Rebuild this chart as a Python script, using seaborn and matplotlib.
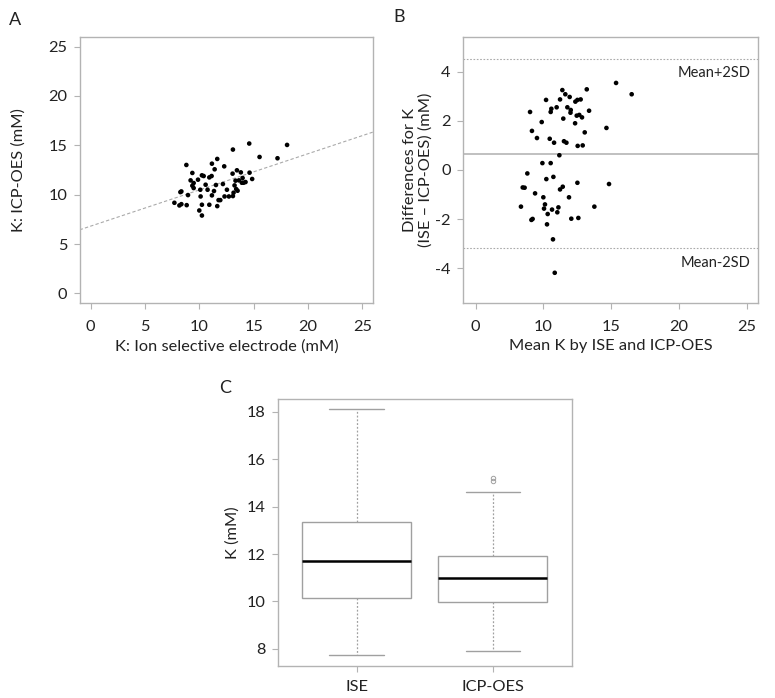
import numpy as np
import pandas as pd
import matplotlib
matplotlib.use("Agg")
import matplotlib.pyplot as plt
import seaborn as sns

# ---------------- data ----------------
# Panel A: ISE (x) vs ICP-OES (y)
ise_k = [7.71, 8.17, 8.26, 8.35, 8.35, 8.81, 8.84, 8.96, 9.20, 9.36, 9.36, 9.48, 9.48,
         9.88, 10.00, 10.09, 10.12, 10.24, 10.24, 10.24, 10.40, 10.58, 10.76, 10.92, 10.92,
         11.13, 11.16, 11.16, 11.35, 11.41, 11.53, 11.65, 11.65, 11.77, 11.93, 12.17, 12.29,
         12.32, 12.54, 12.72, 13.06, 13.09, 13.09, 13.15, 13.24, 13.33, 13.39, 13.46, 13.52,
         13.64, 13.82, 13.91, 13.98, 14.07, 14.25, 14.59, 14.62, 14.86, 15.54, 17.19, 18.07]
icp_k = [9.18, 8.91, 10.26, 10.33, 9.04, 13.01, 8.94, 9.96, 11.45, 12.20, 10.91, 11.18, 10.67,
         11.52, 8.40, 10.50, 9.82, 11.96, 7.89, 8.98, 11.89, 11.01, 10.50, 11.75, 8.98,
         11.89, 13.14, 9.93, 10.37, 12.57, 10.98, 13.62, 8.84, 9.45, 9.45, 11.08, 12.87,
         9.82, 10.50, 9.82, 12.13, 14.57, 9.86, 10.20, 10.94, 11.42, 10.57, 12.47, 10.40,
         11.45, 12.26, 11.21, 11.69, 11.21, 11.28, 15.18, 12.23, 11.59, 13.82, 13.69, 15.04]
fit_intercept = 6.81
fit_slope = 0.367

# Panel B: Bland-Altman
ba_mean = [8.35, 8.48, 8.62, 8.82, 9.02, 9.12, 9.21, 9.16, 9.39, 9.53, 9.88, 9.93, 10.00,
           10.05, 10.12, 10.20, 10.22, 10.27, 10.32, 10.54, 10.59, 10.47, 10.54, 10.64, 10.71,
           10.74, 10.79, 10.84, 10.98, 11.03, 11.11, 11.18, 11.23, 11.23, 11.40, 11.43, 11.47,
           11.52, 11.62, 11.70, 11.77, 11.89, 11.94, 12.02, 12.00, 12.06, 12.34, 12.36, 12.46,
           12.51, 12.53, 12.58, 12.51, 12.65, 12.75, 12.85, 12.90, 13.05, 13.20, 13.37, 13.76,
           14.65, 14.84, 15.36, 16.51]
ba_diff = [-1.49, -0.71, -0.72, -0.14, 2.36, -2.03, -1.99, 1.59, -0.95, 1.30, 1.95, 0.28, -1.11,
           -1.57, -1.40, 2.85, -0.37, -2.21, -1.79, 2.36, 2.49, 1.27, 0.28, -1.61, -2.82,
           -0.28, 1.11, -4.18, 2.55, -1.72, -1.52, 0.60, 2.87, -0.79, 3.25, -0.68, 2.09,
           1.17, 3.08, 1.11, 2.55, -1.11, 2.97, 2.44, 2.33, -1.98, 1.90, 2.78, 2.21,
           -0.52, 0.98, -1.95, 2.85, 2.24, 2.87, 2.14, 1.00, 1.53, 3.28, 2.41, -1.49,
           1.71, -0.57, 3.54, 3.08]
ba_mean_line = 0.65
ba_upper = 4.50
ba_lower = -3.19
ba_xticks = [5, 10, 15, 20, 25]
ba_xticklabels = ["0", "10", "15", "20", "25"]

# Panel C: box plot statistics
box_groups = ["ISE", "ICP-OES"]
box_whislo = [7.73, 7.93]
box_q1 = [10.16, 9.96]
box_med = [11.70, 10.98]
box_q3 = [13.36, 11.92]
box_whishi = [18.10, 14.60]
box_fliers = [[], [15.19, 15.06]]

# ---------------- style ----------------
sns.set_style("white")
plt.rcParams["font.family"] = ["Lato", "DejaVu Sans"]
plt.rcParams["axes.unicode_minus"] = False

SPINE = "#b3b3b3"
TXT = "#222222"
FS = 11.8

fig = plt.figure(figsize=(7.75, 6.98), dpi=100)
axA = fig.add_axes([0.1028, 0.5655, 0.3789, 0.3819])
axB = fig.add_axes([0.5978, 0.5655, 0.3799, 0.3819])
axC = fig.add_axes([0.3583, 0.0458, 0.3794, 0.3821])


def style_axes(ax):
    for s in ax.spines.values():
        s.set_color(SPINE)
        s.set_linewidth(1.0)
    ax.tick_params(axis="both", direction="out", length=4, width=0.8, color=SPINE,
                   labelcolor=TXT, labelsize=FS)
    ax.tick_params(axis="x", pad=8, bottom=True)
    ax.tick_params(axis="y", pad=5, left=True)


# Panel A
dfA = pd.DataFrame({"ise": ise_k, "icp": icp_k})
sns.scatterplot(data=dfA, x="ise", y="icp", ax=axA, color="black", s=11,
                edgecolor="none", zorder=3)
axA.axline((0, fit_intercept), slope=fit_slope, color="#aaaaaa", lw=0.8,
           linestyle=(0, (3, 2)), zorder=2)
axA.set_xlim(-1, 26)
axA.set_ylim(-1, 26)
axA.set_xticks([0, 5, 10, 15, 20, 25])
axA.set_yticks([0, 5, 10, 15, 20, 25])
style_axes(axA)
axA.set_xlabel("K: Ion selective electrode (mM)", fontsize=FS, color=TXT)
axA.set_ylabel("K: ICP-OES (mM)", fontsize=FS, color=TXT)
axA.xaxis.set_label_coords(0.5, -0.135)
axA.yaxis.set_label_coords(-0.185, 0.5)

# Panel B
dfB = pd.DataFrame({"m": ba_mean, "d": ba_diff})
sns.scatterplot(data=dfB, x="m", y="d", ax=axB, color="black", s=11,
                edgecolor="none", zorder=3)
axB.axhline(ba_mean_line, color="#bbbbbb", lw=1.3, zorder=1)
axB.axhline(ba_upper, color="#aaaaaa", lw=0.8, linestyle=(0, (1.5, 1.5)), zorder=1)
axB.axhline(ba_lower, color="#aaaaaa", lw=0.8, linestyle=(0, (1.5, 1.5)), zorder=1)
axB.text(0.975, 3.95, "Mean+2SD", transform=axB.get_yaxis_transform(),
         ha="right", va="center", fontsize=10.5, color=TXT)
axB.text(0.975, -3.8, "Mean-2SD", transform=axB.get_yaxis_transform(),
         ha="right", va="center", fontsize=10.5, color=TXT)
axB.set_xlim(4.1, 25.8)
axB.set_ylim(-5.42, 5.42)
axB.set_xticks(ba_xticks)
axB.set_xticklabels(ba_xticklabels)
axB.set_yticks([-4, -2, 0, 2, 4])
style_axes(axB)
axB.set_xlabel("Mean K by ISE and ICP-OES", fontsize=FS, color=TXT)
axB.set_ylabel("Differences for K\n(ISE \u2013 ICP-OES) (mM)", fontsize=FS, color=TXT,
               linespacing=1.1)
axB.xaxis.set_label_coords(0.5, -0.135)
axB.yaxis.set_label_coords(-0.105, 0.5)

# Panel C
stats = []
for i, g in enumerate(box_groups):
    stats.append(dict(label=g, whislo=box_whislo[i], q1=box_q1[i], med=box_med[i],
                      q3=box_q3[i], whishi=box_whishi[i], fliers=box_fliers[i]))
axC.bxp(stats, positions=[1, 2], widths=0.8, patch_artist=True,
        boxprops=dict(facecolor="white", edgecolor="#a0a0a0", linewidth=1.0),
        medianprops=dict(color="black", linewidth=1.8),
        whiskerprops=dict(color="#a0a0a0", linewidth=0.9, linestyle=(0, (1.5, 1.5))),
        capprops=dict(color="#a0a0a0", linewidth=1.0),
        capwidths=0.4,
        flierprops=dict(marker="o", markersize=3.2, markerfacecolor="none",
                        markeredgecolor="#a0a0a0", markeredgewidth=0.7))
axC.set_xlim(0.42, 2.58)
axC.set_ylim(7.28, 18.52)
axC.set_yticks([8, 10, 12, 14, 16, 18])
axC.set_xticks([1, 2])
axC.set_xticklabels(box_groups)
style_axes(axC)
axC.tick_params(axis="x", pad=6)
axC.set_ylabel("K (mM)", fontsize=FS, color=TXT)
axC.yaxis.set_label_coords(-0.13, 0.5)

# Panel letters
fig.text(0.012, 0.972, "A", fontsize=13, color=TXT, ha="left", va="center")
fig.text(0.508, 0.975, "B", fontsize=13, color=TXT, ha="left", va="center")
fig.text(0.283, 0.444, "C", fontsize=13, color=TXT, ha="left", va="center")

fig.savefig("out.png", dpi=100)
